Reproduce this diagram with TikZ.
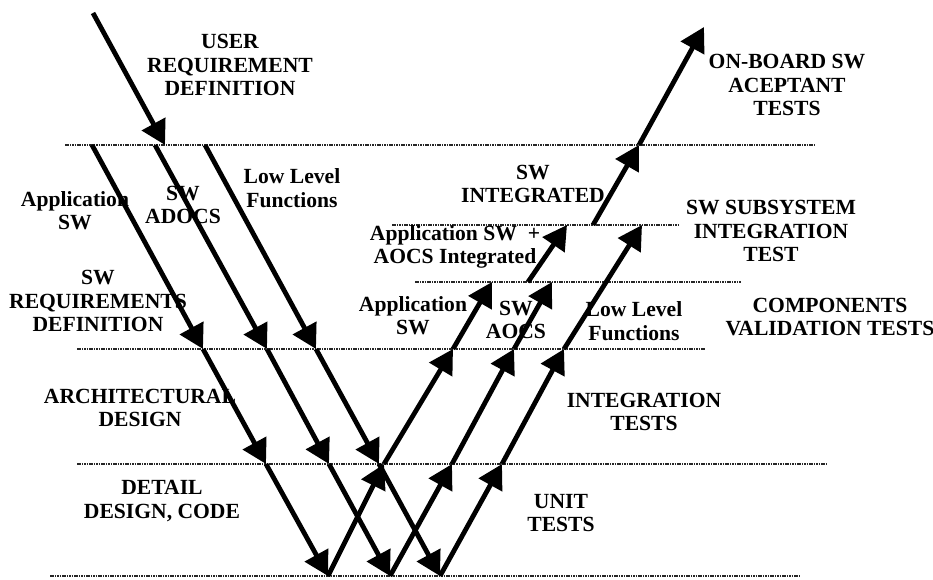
\documentclass[tikz,border=0pt]{standalone}
\usepackage{fontspec}
\setmainfont{Liberation Serif}
\usetikzlibrary{arrows.meta}
\begin{document}
\begin{tikzpicture}[x=0.75pt, y=-0.75pt, >={Triangle[length=18pt, width=19.5pt]},
	seg/.style={->, line width=3.6pt},
	level/.style={line width=0.9pt, black!85, dash pattern=on 1.2pt off 0.6pt},
	lbl/.style={align=center, inner sep=0pt, font=\bfseries\fontsize{16.2}{17.5}\selectfont}]
					\useasboundingbox (0,0) rectangle (933,580);
					\draw[level] (65,145) -- (815,145);
					\draw[level] (392,225) -- (678,225);
					\draw[level] (415,282) -- (741,282);
					\draw[level] (77,349) -- (705,349);
					\draw[level] (77,464) -- (826,464);
					\draw[level] (50,576) -- (800,576);
					\node[lbl] (userreq) at (230,65) {USER\\REQUIREMENT\\DEFINITION};
					\node[lbl] (appswdown) at (75,211) {Application\\SW};
					\node[lbl] (swadocs) at (183,205) {SW\\ADOCS};
					\node[lbl] (lowdown) at (292,188) {Low Level\\Functions};
					\node[lbl] (swreq) at (98,301) {SW\\REQUIREMENTS\\DEFINITION};
					\node[lbl] (archdes) at (140,408) {ARCHITECTURAL\\DESIGN};
					\node[lbl] (detdes) at (162,501) {DETAIL\\DESIGN, CODE};
					\node[lbl] (onboard) at (787,85) {ON-BOARD SW\\ACEPTANT\\TESTS};
					\node[lbl] (swint) at (533,184) {SW\\INTEGRATED};
					\node[lbl] (appaocs) at (455,247) {Application SW\enspace+\\AOCS Integrated};
					\node[lbl] (subsys) at (771,231) {SW SUBSYSTEM\\INTEGRATION\\TEST};
					\node[lbl] (appswup) at (413,316) {Application\\SW};
					\node[lbl] (swaocs) at (516,320) {SW\\AOCS};
					\node[lbl] (lowup) at (634,321) {Low Level\\Functions};
					\node[lbl] (compval) at (830,317) {COMPONENTS\\VALIDATION TESTS};
					\node[lbl] (inttest) at (644,412) {INTEGRATION\\TESTS};
					\node[lbl] (unittest) at (561,513) {UNIT\\TESTS};
					\coordinate (u0) at (93,13);  \coordinate (u1) at (165,145);
					\coordinate (a0) at (92,145); \coordinate (a1) at (203,349); \coordinate (a2) at (266,464); \coordinate (a3) at (328,576);
					\coordinate (b0) at (155,145); \coordinate (b1) at (267,349); \coordinate (b2) at (329,464); \coordinate (b3) at (390,576);
					\coordinate (c0) at (205,145); \coordinate (c1) at (316,349); \coordinate (c2) at (379,464); \coordinate (c3) at (440,576);
					\coordinate (d1) at (384,464); \coordinate (d2) at (453,349); \coordinate (d3) at (492,282);
					\coordinate (e1) at (452,464); \coordinate (e2) at (514,349); \coordinate (e3) at (552,282);
					\coordinate (f1) at (502,464); \coordinate (f2) at (564,349); \coordinate (f3) at (642,225);
					\coordinate (g0) at (528,282); \coordinate (g1) at (567,225);
					\coordinate (h0) at (593,225); \coordinate (h1) at (639,145); \coordinate (h2) at (704,27);
					\draw[seg] (u0) -- (u1);
					\draw[seg] (a0) -- (a1);
					\draw[seg] (a1) -- (a2);
					\draw[seg] (a2) -- (a3);
					\draw[seg] (b0) -- (b1);
					\draw[seg] (b1) -- (b2);
					\draw[seg] (b2) -- (b3);
					\draw[seg] (c0) -- (c1);
					\draw[seg] (c1) -- (c2);
					\draw[seg] (c2) -- (c3);
					\draw[seg] (a3) -- (d1);
					\draw[seg] (d1) -- (d2);
					\draw[seg] (d2) -- (d3);
					\draw[seg] (b3) -- (e1);
					\draw[seg] (e1) -- (e2);
					\draw[seg] (e2) -- (e3);
					\draw[seg] (c3) -- (f1);
					\draw[seg] (f1) -- (f2);
					\draw[seg] (f2) -- (f3);
					\draw[seg] (g0) -- (g1);
					\draw[seg] (h0) -- (h1);
					\draw[seg] (h1) -- (h2);
				\end{tikzpicture}
\end{document}
